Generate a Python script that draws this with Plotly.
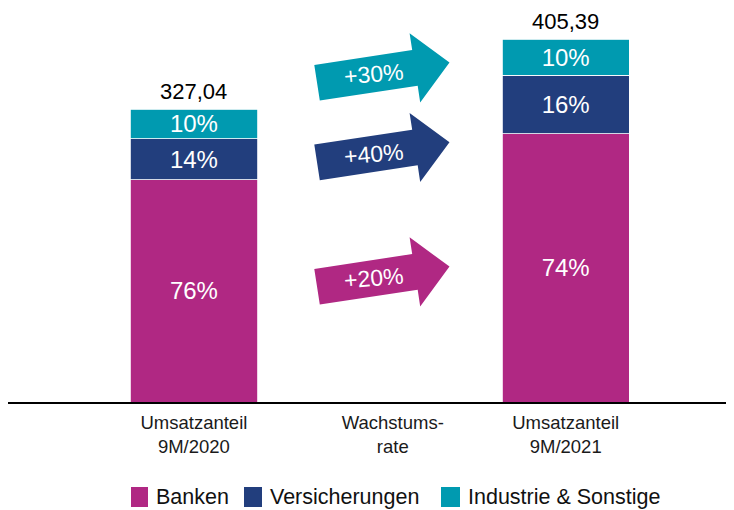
import math
import plotly.graph_objects as go

# data
categories = ["Umsatzanteil<br>9M/2020", "Wachstums-<br>rate", "Umsatzanteil<br>9M/2021"]
series = ["Banken", "Versicherungen", "Industrie & Sonstige"]
totals = [327.04, 405.39]
total_labels = ["327,04", "405,39"]
share_2020 = [76, 14, 10]
share_2021 = [74, 16, 10]
growth = [20, 40, 30]

colors = ["#B02883", "#223E7D", "#009AB0"]
font = "Liberation Sans, Arial, sans-serif"

# page puts the figure 8px from the window corner, so work in window pixels
OFF = 8
TOP, BOT = 20, 402          # plot area top/bottom in window pixels
LEFT, RIGHT = 8, 733
W, H = RIGHT - LEFT, BOT - TOP

bar_x = [0, 2]
fig = go.Figure()
for i, name in enumerate(series):
    shares = [share_2020[i], share_2021[i]]
    fig.add_trace(go.Bar(
        x=bar_x,
        y=[t * s / 100 for t, s in zip(totals, shares)],
        name=name,
        width=0.685,
        marker=dict(color=colors[i], line=dict(color="white", width=0.8)),
        text=[f"{s}%" for s in shares],
        textposition="inside",
        insidetextanchor="middle",
        constraintext="none",
        textfont=dict(family=font, size=24, color="white"),
        hoverinfo="skip",
        showlegend=False,
    ))

# totals above the bars
for x, t, lab in zip(bar_x, totals, total_labels):
    fig.add_annotation(x=x, y=t, text=lab, showarrow=False, yanchor="bottom",
                       yshift=4, borderpad=0,
                       font=dict(family=font, size=22, color="black"))

# growth arrows in the middle column (tilted)
arrow_y = [140, 279, 368]
ang = math.radians(8.7)
pts = [(-67, -18), (32, -18), (32, -35), (67, 0), (32, 35), (32, 18), (-67, 18)]


def rot(px, py):
    return (px * math.cos(ang) - py * math.sin(ang) + 3.5,
            px * math.sin(ang) + py * math.cos(ang))


path = "M" + " L".join(f"{a:.1f},{b:.1f}" for a, b in (rot(*p) for p in pts)) + " Z"
for i, g in enumerate(growth):
    fig.add_shape(type="path", xref="x", yref="y", xsizemode="pixel", ysizemode="pixel",
                  xanchor=1, yanchor=arrow_y[i], path=path,
                  fillcolor=colors[i], line=dict(width=0), layer="above")
    tx, ty = rot(-10, 0)
    fig.add_annotation(x=1, y=arrow_y[i], xshift=tx, yshift=ty, text=f"+{g}%",
                       showarrow=False, textangle=-5,
                       font=dict(family=font, size=23, color="white"))

# legend drawn by hand (big squares like the original)
def px2x(p):
    return (p - LEFT) / W
def px2y(p):
    return (BOT - p) / H

leg_sq = [(131, 148), (244, 262), (441, 460)]
for i, name in enumerate(series):
    x0, x1 = leg_sq[i]
    fig.add_shape(type="rect", xref="paper", yref="paper",
                  x0=px2x(x0), x1=px2x(x1), y0=px2y(507), y1=px2y(487),
                  fillcolor=colors[i], line=dict(width=0))
    fig.add_annotation(xref="paper", yref="paper", x=px2x(x1 + 6), y=px2y(497),
                       xanchor="left", yanchor="middle", text=name, showarrow=False,
                       font=dict(family=font, size=21.5, color="#111111"))

fig.update_layout(
    width=734 - OFF, height=510 - OFF,
    margin=dict(l=LEFT - OFF, r=734 - OFF - (RIGHT - OFF), t=TOP - OFF, b=510 - BOT),
    barmode="stack",
    plot_bgcolor="white", paper_bgcolor="white",
    xaxis=dict(range=[-1.0, 2.9], tickvals=[0, 1.07, 2], ticktext=categories,
               showline=True, linecolor="black", linewidth=2, showgrid=False,
               zeroline=False, ticks="", ticklabelstandoff=3,
               tickfont=dict(family=font, size=18.5, color="#1a1a1a")),
    yaxis=dict(range=[0, H / 0.895], visible=False),
)

fig.write_html("out.html")
